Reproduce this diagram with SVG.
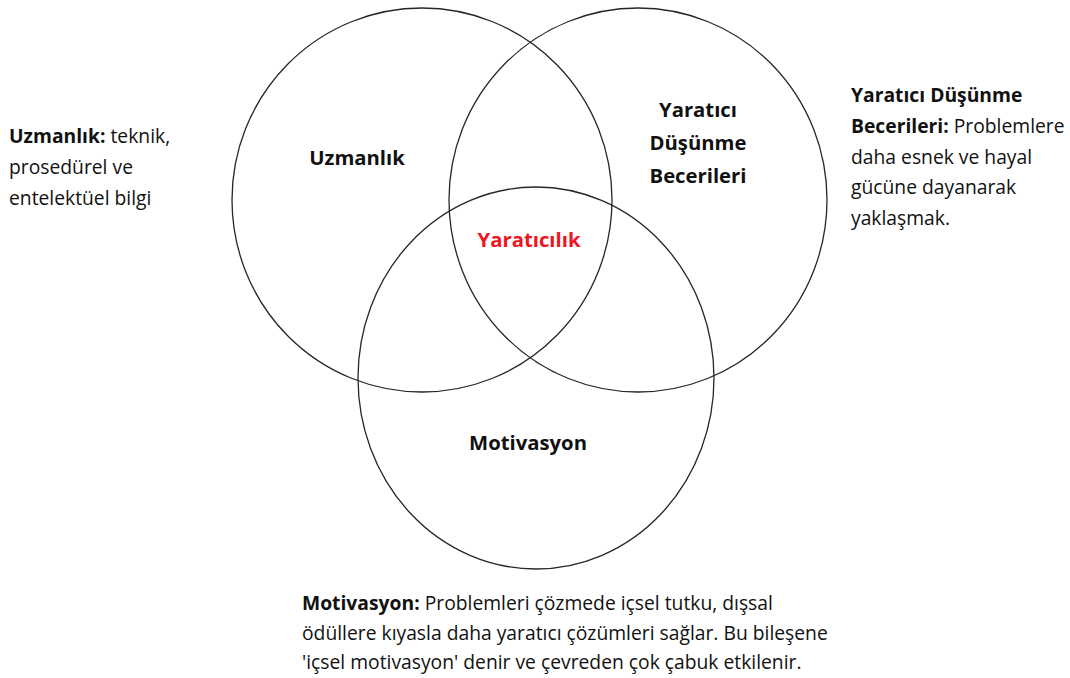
<svg xmlns="http://www.w3.org/2000/svg" width="1070" height="678" viewBox="0 0 1070 678">
<style>
.c{fill:none;stroke:#262626;stroke-width:1.3}
.t{font-family:"Open Sans",Lato,"Liberation Sans",sans-serif;font-size:19.3px;fill:#111}
.lb{font-family:"Open Sans",Lato,"Liberation Sans",sans-serif;font-size:20.3px;font-weight:bold;fill:#111;text-anchor:middle}
.b{font-weight:bold}
</style>
<rect width="1070" height="678" fill="#fff"/>
<g id="circle-uzmanlik">
<ellipse class="c" cx="422" cy="200" rx="190" ry="192"/>
<text class="lb" x="357" y="165">Uzmanlık</text>
</g>
<g id="circle-yaratici">
<ellipse class="c" cx="638" cy="200" rx="189" ry="192"/>
<text class="lb" x="698" y="117">Yaratıcı</text>
<text class="lb" x="698" y="150">Düşünme</text>
<text class="lb" x="698" y="183">Becerileri</text>
</g>
<g id="circle-motivasyon">
<ellipse class="c" cx="536" cy="378" rx="178" ry="191"/>
<text class="lb" x="528" y="450">Motivasyon</text>
</g>
<g id="center">
<text class="lb" x="529" y="247" style="fill:#f0141e">Yaratıcılık</text>
</g>
<g id="desc-uzmanlik">
<text class="t" x="9" y="143"><tspan class="b">Uzmanlık:</tspan> teknik,</text>
<text class="t" x="9" y="174">prosedürel ve</text>
<text class="t" x="9" y="205">entelektüel bilgi</text>
</g>
<g id="desc-yaratici">
<text class="t" x="851" y="102"><tspan class="b">Yaratıcı Düşünme</tspan></text>
<text class="t" x="851" y="133"><tspan class="b">Becerileri:</tspan> Problemlere</text>
<text class="t" x="851" y="164">daha esnek ve hayal</text>
<text class="t" x="851" y="194">gücüne dayanarak</text>
<text class="t" x="851" y="225">yaklaşmak.</text>
</g>
<g id="desc-motivasyon">
<text class="t" x="302" y="610"><tspan class="b">Motivasyon:</tspan> Problemleri çözmede içsel tutku, dışsal</text>
<text class="t" x="302" y="640">ödüllere kıyasla daha yaratıcı çözümleri sağlar. Bu bileşene</text>
<text class="t" x="302" y="669">'içsel motivasyon' denir ve çevreden çok çabuk etkilenir.</text>
</g>
</svg>
